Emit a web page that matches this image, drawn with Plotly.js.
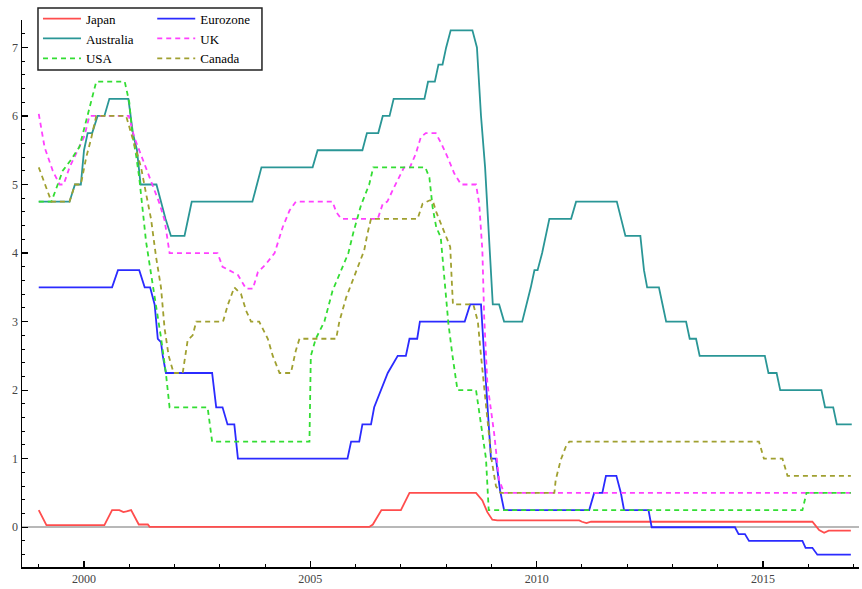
<!DOCTYPE html>
<html>
<head>
<meta charset="utf-8">
<script src="https://cdn.plot.ly/plotly-3.0.1.min.js"></script>
<style>
html,body{margin:0;padding:0;background:#fff;}
#chart{width:862px;height:589px;}
</style>
</head>
<body>
<div id="chart"></div>
<script>
// Policy rates (%); x = decimal year
const japanX = [1999.0,1999.17,2000.45,2000.62,2000.78,2000.87,2000.94,2001.04,2001.21,2001.41,2001.45,2006.3,2006.38,2006.57,2007.0,2007.19,2008.66,2008.8,2008.91,2009.02,2009.13,2010.94,2011.0,2011.1,2011.2,2016.09,2016.24,2016.35,2016.45,2016.94];
const japanY = [0.25,0.03,0.03,0.25,0.25,0.22,0.23,0.25,0.04,0.04,0.005,0.005,0.04,0.25,0.25,0.5,0.5,0.39,0.22,0.11,0.1,0.1,0.08,0.06,0.08,0.08,-0.04,-0.08,-0.05,-0.05];

const euroX = [1999.0,2000.62,2000.75,2001.22,2001.34,2001.46,2001.56,2001.63,2001.7,2001.74,2001.81,2002.83,2002.92,2003.06,2003.17,2003.32,2003.4,2005.82,2005.9,2006.08,2006.15,2006.34,2006.41,2006.56,2006.71,2006.93,2007.11,2007.19,2007.36,2007.42,2008.41,2008.53,2008.77,2008.84,2008.91,2008.99,2009.1,2009.19,2009.28,2011.16,2011.27,2011.45,2011.53,2011.76,2011.86,2011.93,2012.47,2012.54,2014.38,2014.46,2014.6,2014.69,2015.87,2015.94,2016.09,2016.2,2016.94];
const euroY = [3.5,3.5,3.75,3.75,3.5,3.5,3.25,2.75,2.7,2.5,2.25,2.25,1.75,1.75,1.5,1.5,1.0,1.0,1.25,1.25,1.5,1.5,1.75,2.0,2.25,2.5,2.5,2.75,2.75,3.0,3.0,3.25,3.25,2.5,1.85,1.0,1.0,0.54,0.25,0.25,0.5,0.5,0.75,0.75,0.5,0.25,0.25,0.0,0.0,-0.1,-0.1,-0.2,-0.2,-0.3,-0.3,-0.4,-0.4];

const ausX = [1999.0,1999.68,1999.8,1999.93,2000.0,2000.08,2000.18,2000.3,2000.45,2000.56,2000.98,2001.08,2001.17,2001.25,2001.6,2001.7,2001.8,2001.92,2002.22,2002.3,2002.38,2003.72,2003.82,2003.92,2005.05,2005.16,2006.15,2006.25,2006.5,2006.6,2006.75,2006.84,2007.52,2007.6,2007.75,2007.83,2007.92,2008.0,2008.1,2008.58,2008.68,2008.77,2008.86,2008.95,2009.03,2009.17,2009.28,2009.68,2009.78,2009.87,2009.95,2010.02,2010.12,2010.2,2010.28,2010.76,2010.87,2011.77,2011.87,2011.96,2012.29,2012.37,2012.44,2012.7,2012.78,2012.86,2013.3,2013.38,2013.52,2013.6,2015.04,2015.12,2015.3,2015.38,2016.29,2016.37,2016.55,2016.63,2016.96];
const ausY = [4.75,4.75,5.0,5.0,5.5,5.75,5.75,6.0,6.0,6.25,6.25,5.75,5.5,5.0,5.0,4.75,4.5,4.25,4.25,4.5,4.75,4.75,5.0,5.25,5.25,5.5,5.5,5.75,5.75,6.0,6.0,6.25,6.25,6.5,6.5,6.75,6.75,7.0,7.25,7.25,7.0,6.0,5.25,4.25,3.25,3.25,3.0,3.0,3.25,3.5,3.75,3.75,4.0,4.25,4.5,4.5,4.75,4.75,4.5,4.25,4.25,3.75,3.5,3.5,3.25,3.0,3.0,2.75,2.75,2.5,2.5,2.25,2.25,2.0,2.0,1.75,1.75,1.5,1.5];

const ukX = [1999.0,1999.13,1999.31,1999.46,1999.55,1999.68,1999.86,2000.01,2000.12,2000.99,2001.11,2001.22,2001.37,2001.52,2001.67,2001.78,2001.89,2002.95,2003.06,2003.29,2003.4,2003.58,2003.73,2003.84,2004.02,2004.21,2004.39,2004.54,2004.68,2005.49,2005.57,2005.68,2006.49,2006.6,2006.7,2006.85,2006.95,2007.07,2007.2,2007.33,2007.44,2007.55,2007.77,2007.9,2008.03,2008.18,2008.33,2008.66,2008.73,2008.8,2008.84,2008.91,2009.06,2009.17,2009.28,2016.94];
const ukY = [6.03,5.54,5.2,5.0,5.0,5.25,5.5,5.71,6.0,6.0,5.69,5.5,5.25,5.0,4.72,4.48,4.0,4.0,3.8,3.72,3.68,3.48,3.48,3.72,3.84,4.0,4.38,4.62,4.75,4.75,4.6,4.5,4.5,4.72,4.75,4.96,5.1,5.25,5.25,5.45,5.69,5.75,5.75,5.59,5.4,5.16,5.0,5.0,4.72,4.04,3.07,2.1,1.37,0.69,0.5,0.5];

const usaX = [1999.0,1999.28,1999.53,1999.7,1999.9,2000.0,2000.08,2000.27,2000.9,2001.0,2001.07,2001.15,2001.22,2001.3,2001.37,2001.48,2001.59,2001.7,2001.81,2001.89,2002.73,2002.83,2004.98,2005.01,2005.12,2005.31,2005.49,2005.68,2005.84,2005.95,2006.12,2006.3,2006.39,2007.54,2007.63,2007.7,2007.78,2007.88,2007.95,2008.0,2008.05,2008.14,2008.2,2008.25,2008.66,2008.77,2008.88,2008.94,2015.87,2015.96,2016.94];
const usaY = [4.75,4.75,5.2,5.35,5.55,5.8,6.0,6.5,6.5,6.2,5.72,5.43,5.1,4.65,4.17,3.7,3.26,2.77,2.24,1.75,1.75,1.25,1.25,2.5,2.75,3.0,3.45,3.75,4.0,4.3,4.7,5.0,5.25,5.25,5.1,4.67,4.38,4.23,3.75,3.3,2.97,2.5,2.2,2.0,2.0,1.5,1.0,0.25,0.25,0.5,0.5];

const canX = [1999.0,1999.28,1999.68,1999.8,1999.93,2000.05,2000.15,2000.27,2000.93,2001.05,2001.15,2001.26,2001.37,2001.48,2001.59,2001.7,2001.78,2001.87,2001.98,2002.18,2002.29,2002.4,2002.48,2003.07,2003.18,2003.32,2003.47,2003.58,2003.69,2003.87,2004.06,2004.17,2004.32,2004.57,2004.68,2004.76,2005.57,2005.64,2005.79,2005.93,2006.08,2006.19,2006.26,2006.34,2007.37,2007.48,2007.64,2007.7,2007.78,2007.88,2007.99,2008.09,2008.12,2008.15,2008.6,2008.7,2008.77,2008.85,2008.93,2009.0,2009.1,2009.2,2010.39,2010.42,2010.53,2010.64,2010.72,2014.91,2015.02,2015.43,2015.54,2016.94];
const canY = [5.25,4.75,4.75,5.0,5.0,5.4,5.65,6.0,6.0,5.73,5.5,5.25,4.87,4.5,3.95,3.5,2.9,2.5,2.25,2.25,2.73,2.8,3.0,3.0,3.25,3.5,3.4,3.16,3.0,3.0,2.75,2.5,2.25,2.25,2.58,2.75,2.75,3.0,3.35,3.6,3.85,4.04,4.28,4.5,4.5,4.72,4.77,4.77,4.6,4.43,4.23,4.09,3.65,3.25,3.25,3.0,2.5,2.0,1.5,1.0,0.6,0.5,0.5,0.69,0.98,1.17,1.25,1.25,1.0,1.0,0.75,0.75];

const seriesNames = ["Japan","Eurozone","Australia","UK","USA","Canada"];
const yTickVals = [0,1,2,3,4,5,6,7];
const xTickVals = [2000,2005,2010,2015];

const DASH = "5px,4px";
const traces = [
  {x: japanX, y: japanY, name: seriesNames[0], legend: "legend", line: {color: "#ff4d4d", width: 1.8}},
  {x: euroX, y: euroY, name: seriesNames[1], legend: "legend2", line: {color: "#2b2bff", width: 1.8}},
  {x: ausX, y: ausY, name: seriesNames[2], legend: "legend", line: {color: "#2a9696", width: 1.8}},
  {x: ukX, y: ukY, name: seriesNames[3], legend: "legend2", line: {color: "#ff40ff", width: 1.8, dash: DASH}},
  {x: usaX, y: usaY, name: seriesNames[4], legend: "legend", line: {color: "#33dd33", width: 1.8, dash: DASH}},
  {x: canX, y: canY, name: seriesNames[5], legend: "legend2", line: {color: "#a0a030", width: 1.8, dash: DASH}}
].map(t => Object.assign({type: "scatter", mode: "lines"}, t));

const tickFont = {family: "Liberation Serif, serif", size: 12, color: "#444"};
const legFont = {family: "Liberation Serif, serif", size: 13, color: "#000"};
const legCommon = {
  orientation: "v", yanchor: "top", xanchor: "left",
  bgcolor: "rgba(0,0,0,0)", borderwidth: 0, itemwidth: 38,
  font: legFont, tracegroupgap: 0, traceorder: "normal"
};

const layout = {
  width: 862, height: 589,
  margin: {l: 22, r: 3, t: 20, b: 22},
  paper_bgcolor: "#fff", plot_bgcolor: "#fff",
  showlegend: true,
  legend: Object.assign({x: 0.0191, y: 1.030}, legCommon),
  legend2: Object.assign({x: 0.1556, y: 1.030}, legCommon),
  shapes: [{
    type: "rect", xref: "paper", yref: "paper", layer: "above",
    x0: 0.0191, x1: 0.2867, y0: 0.9086, y1: 1.0219,
    line: {color: "#222", width: 1.5}, fillcolor: "#fff"
  }],
  xaxis: {
    range: [1998.63, 2017.12],
    tickvals: xTickVals, ticktext: xTickVals.map(String),
    ticks: "inside", ticklen: 6, tickwidth: 1.2, tickcolor: "#000",
    minor: {ticks: "inside", dtick: 1, tick0: 2000, ticklen: 3, tickcolor: "#000", tickwidth: 1},
    showgrid: false, zeroline: false,
    showline: true, linecolor: "#000", linewidth: 1.5,
    tickfont: tickFont
  },
  yaxis: {
    range: [-0.58, 7.4],
    tickvals: yTickVals, ticktext: yTickVals.map(String),
    ticks: "inside", ticklen: 6, tickwidth: 1.2, tickcolor: "#000",
    minor: {ticks: "inside", dtick: 0.2, tick0: 0, ticklen: 3, tickcolor: "#000", tickwidth: 1},
    showgrid: false,
    zeroline: true, zerolinecolor: "#b8b8b8", zerolinewidth: 2,
    showline: true, linecolor: "#000", linewidth: 1.5,
    tickfont: tickFont
  }
};

Plotly.newPlot("chart", traces, layout, {displayModeBar: false, staticPlot: true});
</script>
</body>
</html>
